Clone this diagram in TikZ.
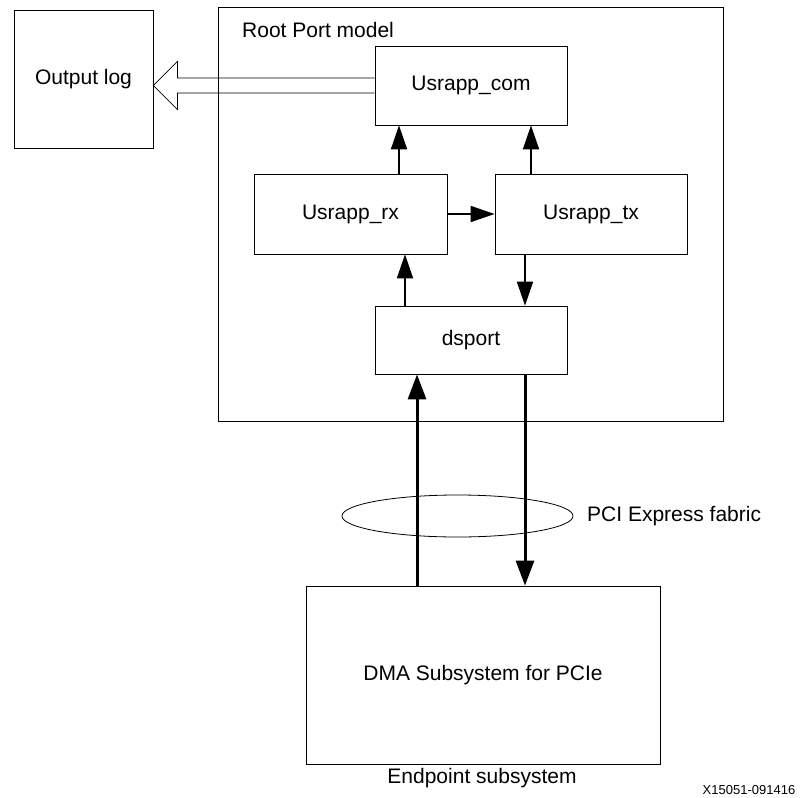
\documentclass[tikz,border=0pt]{standalone}
\usepackage{fontspec}
\setmainfont{Liberation Sans}
\usepackage{tikz}
\usetikzlibrary{arrows.meta}
\usetikzlibrary{positioning}
\usetikzlibrary{shapes.geometric}

\begin{document}
\begin{tikzpicture}[x=1pt,y=-1pt,
  blk/.style={draw,line width=0.8pt,inner sep=0pt,font=\fontsize{21}{25}\selectfont},
  lbl/.style={inner sep=0pt,font=\fontsize{21}{25}\selectfont},
  arr/.style={line width=2pt,-{Triangle[length=24pt,width=16pt]}},
  bigarr/.style={line width=3pt,-{Triangle[length=25pt,width=18pt]}}]
\useasboundingbox (0,0) rectangle (801,798);

\node [blk,minimum width=505pt,minimum height=414pt] (rootport) at (470.5,214) {};
\node [lbl,anchor=base west] (rplabel) at (242,37) {Root Port model};

\node [blk,minimum width=139pt,minimum height=138pt] (outlog) at (83.5,79) {Output log};
\node [blk,minimum width=192pt,minimum height=79pt] (com) at (471,85.5) {Usrapp\_com};
\node [blk,minimum width=193pt,minimum height=80pt] (rx) at (350.5,214) {Usrapp\_rx};
\node [blk,minimum width=192pt,minimum height=80pt] (tx) at (591,214) {Usrapp\_tx};
\node [blk,minimum width=192pt,minimum height=68pt] (dsport) at (471,340) {dsport};
\node [blk,minimum width=354pt,minimum height=178pt] (dma) at (483,675) {DMA Subsystem for PCIe};
\node [lbl] (endpoint) at (482,778) {Endpoint subsystem};
\node [inner sep=0pt,font=\fontsize{13}{15}\selectfont] (figid) at (749,790) {X15051-091416};

% fabric
\node [ellipse,draw,line width=0.8pt,minimum width=231pt,minimum height=42pt] (fabric) at (457.5,516) {};
\node [lbl,anchor=west] (fablabel) at (587,516) {PCI Express fabric};

% output arrow
\coordinate (hb) at ([xshift=24pt]outlog.east |- com.west);
\draw [line width=0.8pt] ([yshift=7.5pt]com.west) -- ([yshift=7.5pt]com.west -| hb) -- ([yshift=24pt]hb)
  -- (outlog.east |- com.west) -- ([yshift=-24pt]hb) -- ([yshift=-7.5pt]com.west -| hb) -- ([yshift=-7.5pt]com.west);

% inner links
\draw [arr] ([xshift=48.5pt]rx.north) -- ([xshift=48.5pt]rx.north |- com.south);
\draw [arr] ([xshift=-60pt]tx.north) -- ([xshift=-60pt]tx.north |- com.south);
\draw [arr] (rx.east) -- (tx.west);
\draw [arr] ([xshift=-66pt]dsport.north) -- ([xshift=-66pt]dsport.north |- rx.south);
\draw [arr] ([xshift=-66pt]tx.south) -- ([xshift=-66pt]tx.south |- dsport.north);

% link to endpoint
\draw [bigarr] ([xshift=-66pt]dma.north) -- ([xshift=-66pt]dma.north |- dsport.south);
\draw [bigarr] ([xshift=54pt]dsport.south) -- ([xshift=54pt]dsport.south |- dma.north);
\end{tikzpicture}
\end{document}
